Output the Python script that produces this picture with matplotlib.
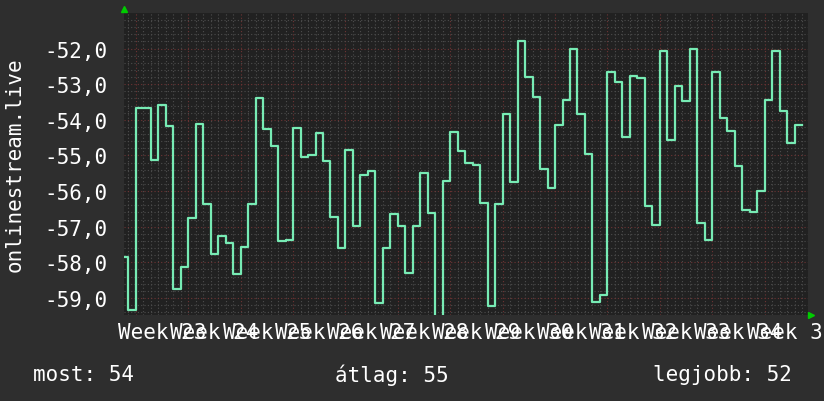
import numpy as np
import matplotlib
matplotlib.use("Agg")
import matplotlib.pyplot as plt

# ====== data (daily values, first day starts one day before the first grid line) ======
values = [
    -57.86, -59.33, -53.68, -53.68, -55.13, -53.57, -54.18, -58.75, -58.12, -56.76,
    -54.12, -56.37, -57.77, -57.26, -57.46, -58.32, -57.58, -56.37, -53.40, -54.26,
    -54.74, -57.40, -57.38, -54.22, -55.05, -54.99, -54.38, -55.16, -56.72, -57.59,
    -54.86, -56.97, -55.55, -55.44, -59.13, -57.59, -56.64, -56.98, -58.30, -56.98,
    -55.49, -56.62, -59.60, -55.73, -54.35, -54.88, -55.22, -55.27, -56.33, -59.22,
    -56.37, -53.85, -55.74, -51.80, -52.80, -53.36, -55.38, -55.92, -54.15, -53.45,
    -52.02, -53.85, -54.96, -59.11, -58.91, -52.66, -52.94, -54.48, -52.78, -52.83,
    -56.43, -56.96, -52.07, -54.58, -53.06, -53.47, -52.02, -56.89, -57.37, -52.66,
    -53.95, -54.32, -55.30, -56.53, -56.58, -56.00, -53.45, -52.06, -53.76, -54.65,
    -54.15,
]
week_numbers = list(range(23, 36))
y_ticks = [-59, -58, -57, -56, -55, -54, -53, -52]
legend_labels = ["most: 54", "átlag: 55", "legjobb: 52"]
y_title = "onlinestream.live"

# ====== style ======
BG = "#2e2e2e"
PLOT_BG = "#212121"
MINOR = "#4d4d4d"
MAJOR = "#6e3434"
LINE = "#77ebb4"
FONT = "DejaVu Sans Mono"
FS = 15

W, H = 824, 402
fig = plt.figure(figsize=(W / 100, H / 100), dpi=100, facecolor=BG)
ax = fig.add_axes([124 / W, 1 - 316 / H, (808 - 124) / W, (316 - 14) / H])
ax.set_facecolor(PLOT_BG)

x0, x1 = -0.59, 90.8
y0, y1 = -59.48, -51.0
ax.set_xlim(x0, x1)
ax.set_ylim(y0, y1)

# grid: minor = day / 0.2, major = week / 1.0
for d in np.arange(0, 91):
    major = (d - 1) % 7 == 0
    ax.axvline(d, color=MAJOR if major else MINOR, lw=0.8, ls=(0, (1, 2)), zorder=1)
for v in np.arange(-59.4, -51.0, 0.2):
    major = abs(v - round(v)) < 1e-6
    ax.axhline(v, color=MAJOR if major else MINOR, lw=0.8, ls=(0, (1, 2)), zorder=1)

# data line
days = np.arange(-1, len(values) - 1)
xs = np.append(days, days[-1] + 1)
ys = np.append(values, values[-1])
ax.step(xs, ys, where="post", color=LINE, lw=1.6, zorder=3)

for s in ax.spines.values():
    s.set_visible(False)

ax.set_yticks(y_ticks)
ax.set_yticklabels([f"{v:.1f}".replace(".", ",") for v in y_ticks])
ax.set_xticks([4.5 + 7 * k for k in range(len(week_numbers))])
ax.set_xticklabels([f"Week {w}" for w in week_numbers])
ax.tick_params(axis="y", length=0, pad=12, labelcolor="white", labelsize=FS)
ax.tick_params(axis="x", length=0, pad=5, labelcolor="white", labelsize=FS)
for lab in ax.get_xticklabels() + ax.get_yticklabels():
    lab.set_fontfamily(FONT)

# axis arrows
ax.plot([0], [1.012], marker="^", color="#00cc00", ms=5, transform=ax.transAxes, clip_on=False)
ax.plot([1.004], [0], marker=">", color="#00cc00", ms=5, transform=ax.transAxes, clip_on=False)

fig.text(15 / W, 1 - 165 / H, y_title, rotation=90, ha="center", va="center",
         color="white", fontsize=FS, family=FONT)

fig.text(33 / W, 1 - 375 / H, legend_labels[0], ha="left", va="center",
         color="white", fontsize=FS, family=FONT)
fig.text(335 / W, 1 - 375 / H, legend_labels[1], ha="left", va="center",
         color="white", fontsize=FS, family=FONT)
fig.text(792 / W, 1 - 375 / H, legend_labels[2], ha="right", va="center",
         color="white", fontsize=FS, family=FONT)

fig.savefig("out.png", dpi=100, facecolor=BG)
